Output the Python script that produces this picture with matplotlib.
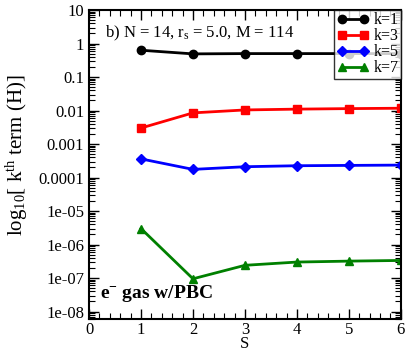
import numpy as np
import matplotlib
matplotlib.use('Agg')
import matplotlib.pyplot as plt
from matplotlib.ticker import LogLocator, MultipleLocator

plt.rcParams['font.family'] = ['Liberation Serif', 'DejaVu Serif']
plt.rcParams['mathtext.fontset'] = 'custom'
plt.rcParams['mathtext.rm'] = 'Liberation Serif'
plt.rcParams['mathtext.it'] = 'Liberation Serif'
plt.rcParams['mathtext.bf'] = 'Liberation Serif:bold'

# data
s_vals = [1, 2, 3, 4, 5, 6]
k1 = [0.63, 0.49, 0.50, 0.50, 0.50, 0.50]
k3 = [0.0030, 0.0085, 0.0104, 0.0110, 0.0114, 0.0117]
k5 = [3.6e-4, 1.75e-4, 2.1e-4, 2.25e-4, 2.3e-4, 2.35e-4]
k7 = [3.0e-6, 9.5e-8, 2.4e-7, 3.0e-7, 3.2e-7, 3.35e-7]
series = [('k=1', k1, 'black', 'o'),
          ('k=3', k3, 'red', 's'),
          ('k=5', k5, 'blue', 'D'),
          ('k=7', k7, 'green', '^')]
ytick_vals = [1e1, 1, 1e-1, 1e-2, 1e-3, 1e-4, 1e-5, 1e-6, 1e-7, 1e-8]
ytick_labels = ['10', '1', '0.1', '0.01', '0.001', '0.0001',
                '1e-05', '1e-06', '1e-07', '1e-08']

fig = plt.figure(figsize=(4.07, 3.52), dpi=100)
ax = fig.add_axes([0.2187, 0.0938, 0.7663, 0.8778])

for label, vals, col, mk in series:
    ms = 5 if mk == 'D' else 6
    ax.plot(s_vals, vals, color=col, marker=mk, markersize=ms, lw=2, label=label)

ax.set_yscale('log')
ax.set_xlim(0, 6)
ax.set_ylim(6e-9, 10)
ax.set_yticks(ytick_vals)
ax.set_yticklabels(ytick_labels)
ax.yaxis.set_minor_locator(LogLocator(base=10, subs=np.arange(2, 10), numticks=20))
ax.xaxis.set_major_locator(MultipleLocator(1))
ax.xaxis.set_minor_locator(MultipleLocator(0.2))

ax.tick_params(which='both', direction='in', top=True, right=True, labelsize=12)
ax.tick_params(axis='x', pad=2)
ax.tick_params(which='major', length=7, width=1)
ax.tick_params(which='minor', length=4, width=0.8)
for sp in ax.spines.values():
    sp.set_linewidth(1.5)

ax.set_xlabel('S', fontsize=12, va='center')
ax.xaxis.set_label_coords(0.5, -0.082)
ax.set_ylabel(r'log$_{10}$[ k$^{\rm th}$ term (H)]', fontsize=15)
ax.yaxis.set_label_coords(-0.19, 0.53)

ax.text(0.05, 0.955, r'b) N = 14, r$_{\rm s}$ = 5.0, M = 114', transform=ax.transAxes,
        fontsize=12, va='top', ha='left')
ax.text(0.035, 0.05, r'e$^{\mathbf{-}}$ gas w/PBC', transform=ax.transAxes,
        fontsize=14, fontweight='bold', va='bottom', ha='left')

leg = ax.legend(loc='upper right', fontsize=11.5, frameon=True, fancybox=False,
                edgecolor='black', borderpad=0.15, labelspacing=0.0,
                handlelength=2.0, handletextpad=0.3, borderaxespad=0.0,
                numpoints=2)
leg.get_frame().set_linewidth(1.0)

plt.savefig('out.png', dpi=100)
